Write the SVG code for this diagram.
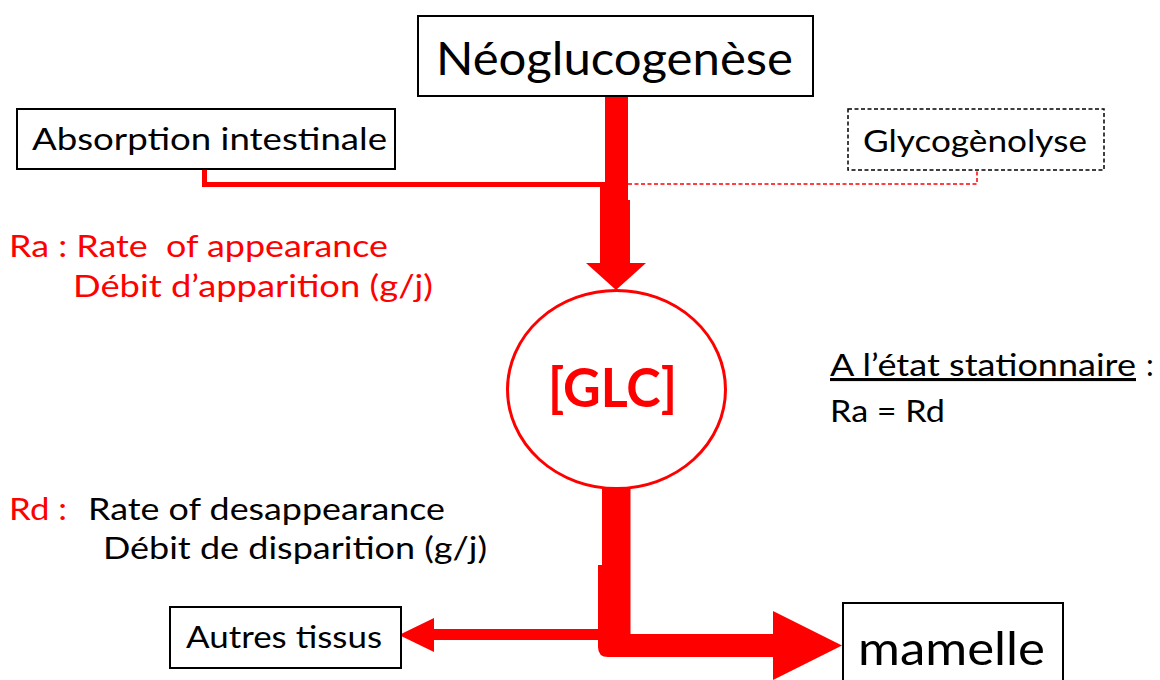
<svg xmlns="http://www.w3.org/2000/svg" width="1160" height="680" viewBox="0 0 1160 680">
<style>
.box{fill:#fff;stroke:#000;stroke-width:2}
.t{font-family:Lato,"Open Sans","Liberation Sans",sans-serif;fill:#000}
.r{fill:#ff0000}
.red{fill:#ff0000;stroke:none}
</style>
<rect width="1160" height="680" fill="#fff"/>
<g id="connectors">
  <path d="M204.5,169 V184.5 H606" fill="none" stroke="#ff0000" stroke-width="5"/>
  <path d="M628,184 H977 V170" fill="none" stroke="#ff0000" stroke-width="1.5" stroke-dasharray="4,2.5"/>
  <polygon class="red" points="605,96 628,96 628,200 630,200 630,263 646,263 616,290 586,263 600,263 600,187 605,187"/>
  <path class="red" d="M602,486 H630.5 V634 H773 V611 L842,645.5 L773,680 V657 H608 Q598,657 598,647 V565 H602 Z"/>
  <polygon class="red" points="599,629 434,629 434,618 399,635 434,652 434,640 599,640"/>
</g>
<g id="neoglucogenese">
  <rect class="box" x="418" y="16" width="395" height="80"/>
  <text class="t" x="436" y="75" font-size="46" textLength="357" lengthAdjust="spacingAndGlyphs">Néoglucogenèse</text>
</g>
<g id="absorption">
  <rect class="box" x="17" y="109" width="378" height="60"/>
  <text class="t" x="32" y="150" font-size="31" textLength="355" lengthAdjust="spacingAndGlyphs">Absorption intestinale</text>
</g>
<g id="glycogenolyse">
  <rect x="848" y="109" width="256" height="61" fill="#fff" stroke="#000" stroke-width="1.5" stroke-dasharray="4,2.5"/>
  <text class="t" x="863" y="152" font-size="31" textLength="224" lengthAdjust="spacingAndGlyphs">Glycogènolyse</text>
</g>
<g id="glc">
  <ellipse cx="616.5" cy="389.5" rx="109" ry="99" fill="#fff" stroke="#ff0000" stroke-width="3"/>
  <text class="t r" x="548" y="407" font-size="54" font-weight="bold" textLength="129" lengthAdjust="spacingAndGlyphs">[GLC]</text>
</g>
<g id="autres-tissus">
  <rect class="box" x="170" y="607" width="231" height="61"/>
  <text class="t" x="186" y="648" font-size="30" textLength="196" lengthAdjust="spacingAndGlyphs">Autres tissus</text>
</g>
<g id="mamelle">
  <rect class="box" x="843" y="603" width="220" height="90"/>
  <text class="t" x="858" y="665" font-size="46" textLength="187" lengthAdjust="spacingAndGlyphs">mamelle</text>
</g>
<g id="labels">
  <text class="t r" x="9" y="257" font-size="31" xml:space="preserve" textLength="379" lengthAdjust="spacingAndGlyphs">Ra : Rate  of appearance</text>
  <text class="t r" x="73" y="297" font-size="31" textLength="360" lengthAdjust="spacingAndGlyphs">Débit d’apparition (g/j)</text>
  <text class="t r" x="9" y="520" font-size="31" textLength="58" lengthAdjust="spacingAndGlyphs">Rd :</text>
  <text class="t" x="88" y="520" font-size="31" textLength="357" lengthAdjust="spacingAndGlyphs">Rate of desappearance</text>
  <text class="t" x="103" y="559" font-size="31" textLength="384" lengthAdjust="spacingAndGlyphs">Débit de disparition (g/j)</text>
  <text class="t" x="830" y="376" font-size="31" text-decoration="underline" textLength="306" lengthAdjust="spacingAndGlyphs">A l’état stationnaire</text>
  <text class="t" x="1146" y="376" font-size="31">:</text>
  <text class="t" x="830" y="422" font-size="31" textLength="115" lengthAdjust="spacingAndGlyphs">Ra = Rd</text>
</g>
</svg>
